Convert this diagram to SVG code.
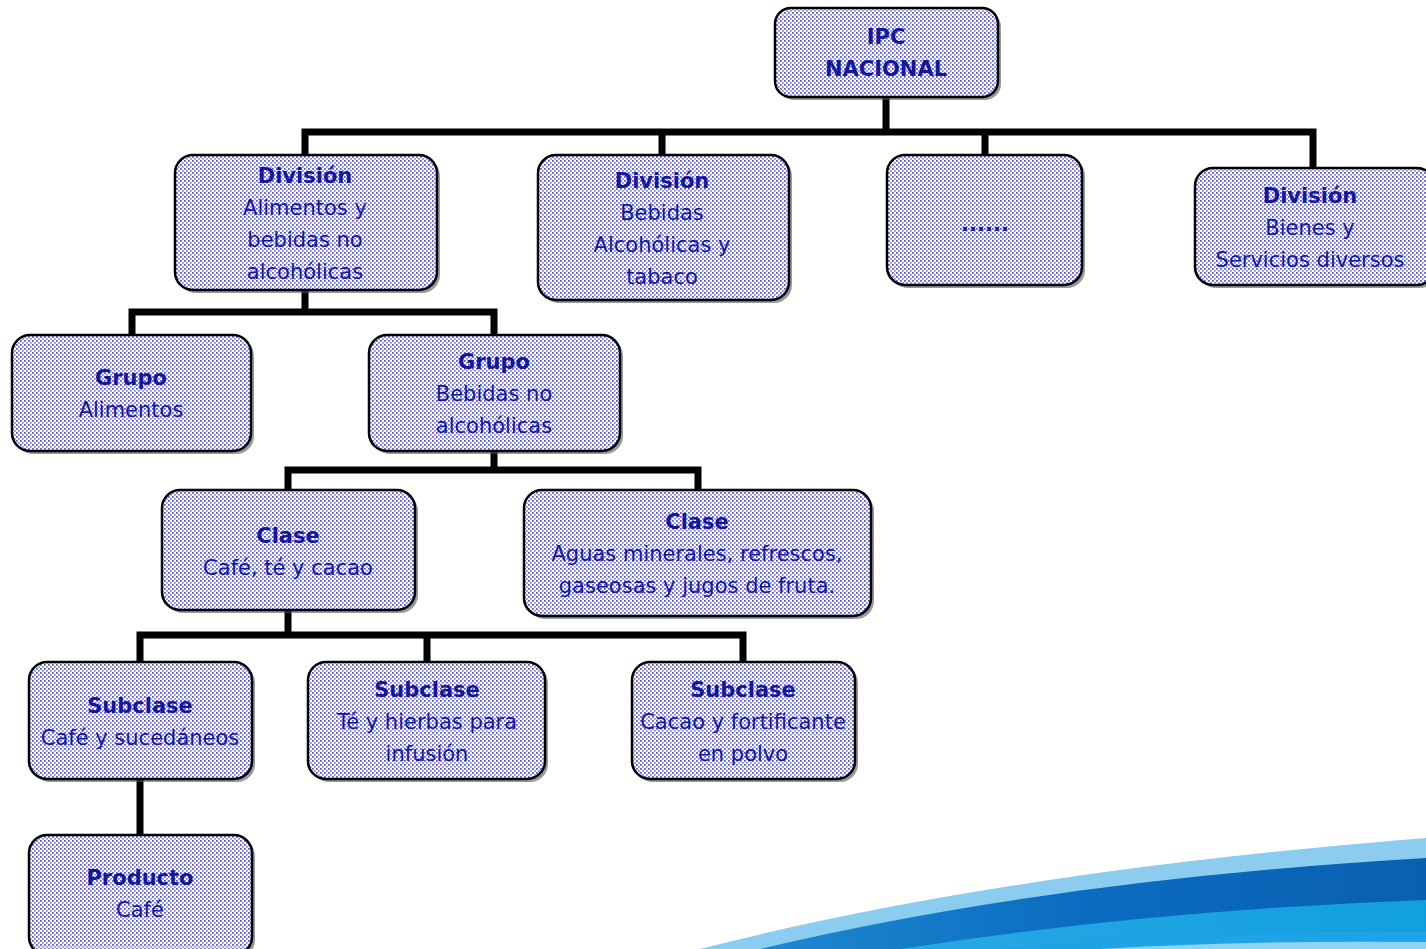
<svg xmlns="http://www.w3.org/2000/svg" width="1426" height="949" viewBox="0 0 1426 949">
<defs>
<pattern id="dots" width="4" height="4" patternUnits="userSpaceOnUse">
<rect width="4" height="4" fill="#ffffff"/>
<rect x="0" y="0" width="1.8" height="1.8" fill="#5a5ad8"/>
<rect x="2" y="2" width="1.8" height="1.8" fill="#8a8ae8"/>
</pattern>
<linearGradient id="dark" x1="0" y1="0" x2="1" y2="0">
<stop offset="0" stop-color="#1e88d0"/>
<stop offset="0.5" stop-color="#0a6cc0"/>
<stop offset="1" stop-color="#0a5fb0"/>
</linearGradient>
<linearGradient id="cyan" x1="0" y1="0" x2="1" y2="0">
<stop offset="0" stop-color="#2aa6e4"/>
<stop offset="1" stop-color="#10a0e0"/>
</linearGradient>
</defs>
<style>
.box{fill:url(#dots);stroke:#000;stroke-width:2.5}
.sh{fill:#555;opacity:0.6}
.t{font-family:"DejaVu Sans",sans-serif;font-size:21px;fill:#16169c;text-anchor:middle}
.b{font-weight:bold}
.c{fill:none;stroke:#000;stroke-width:7;stroke-linecap:butt;stroke-linejoin:miter}
</style>
<rect width="1426" height="949" fill="#ffffff"/>
<g id="swoosh">
<path d="M 700 949 Q 1000 872 1426 838 L 1426 949 Z" fill="#8ccdef"/>
<path d="M 760 949 Q 1050 880 1426 858 L 1426 949 Z" fill="url(#dark)"/>
<path d="M 900 949 Q 1150 910 1426 900 L 1426 949 Z" fill="url(#cyan)"/>
<path d="M 1000 949 Q 1200 930 1426 932 L 1426 949 Z" fill="#1ea4e6"/>
<path d="M 1100 949 Q 1250 940 1426 942 L 1426 949 Z" fill="#8fd3f2"/>
</g>
<g id="connectors">
<path class="c" d="M 886 97 V 132 M 305 155 V 132 H 1313 V 168 M 662 132 V 155 M 985 132 V 155"/>
<path class="c" d="M 305 290 V 312 M 132 335 V 312 H 494 V 335"/>
<path class="c" d="M 494 451 V 470 M 288 490 V 470 H 698 V 490"/>
<path class="c" d="M 288 610 V 635 M 140 662 V 635 H 743 V 662 M 427 635 V 662"/>
<path class="c" d="M 140 779 V 835"/>
</g>
<g id="ipc">
<rect class="sh" x="778" y="11" width="223" height="89" rx="16"/>
<rect class="box" x="775" y="8" width="223" height="89" rx="16"/>
<text class="t b" x="886" y="44">IPC</text>
<text class="t b" x="886" y="76">NACIONAL</text>
</g>
<g id="div1">
<rect class="sh" x="178" y="158" width="262" height="135" rx="18"/>
<rect class="box" x="175" y="155" width="262" height="135" rx="18"/>
<text class="t b" x="305" y="183">División</text>
<text class="t" x="305" y="215">Alimentos y</text>
<text class="t" x="305" y="247">bebidas no</text>
<text class="t" x="305" y="279">alcohólicas</text>
</g>
<g id="div2">
<rect class="sh" x="541" y="158" width="251" height="145" rx="18"/>
<rect class="box" x="538" y="155" width="251" height="145" rx="18"/>
<text class="t b" x="662" y="188">División</text>
<text class="t" x="662" y="220">Bebidas</text>
<text class="t" x="662" y="252">Alcohólicas y</text>
<text class="t" x="662" y="284">tabaco</text>
</g>
<g id="div3">
<rect class="sh" x="890" y="158" width="195" height="130" rx="18"/>
<rect class="box" x="887" y="155" width="195" height="130" rx="18"/>
<text class="t b" x="985" y="231">......</text>
</g>
<g id="div4">
<rect class="sh" x="1198" y="171" width="240" height="117" rx="18"/>
<rect class="box" x="1195" y="168" width="240" height="117" rx="18"/>
<text class="t b" x="1310" y="203">División</text>
<text class="t" x="1310" y="235">Bienes y</text>
<text class="t" x="1310" y="267">Servicios diversos</text>
</g>
<g id="grupo1">
<rect class="sh" x="15" y="338" width="239" height="116" rx="18"/>
<rect class="box" x="12" y="335" width="239" height="116" rx="18"/>
<text class="t b" x="131" y="385">Grupo</text>
<text class="t" x="131" y="417">Alimentos</text>
</g>
<g id="grupo2">
<rect class="sh" x="372" y="338" width="251" height="116" rx="18"/>
<rect class="box" x="369" y="335" width="251" height="116" rx="18"/>
<text class="t b" x="494" y="369">Grupo</text>
<text class="t" x="494" y="401">Bebidas no</text>
<text class="t" x="494" y="433">alcohólicas</text>
</g>
<g id="clase1">
<rect class="sh" x="165" y="493" width="253" height="120" rx="18"/>
<rect class="box" x="162" y="490" width="253" height="120" rx="18"/>
<text class="t b" x="288" y="543">Clase</text>
<text class="t" x="288" y="575">Café, té y cacao</text>
</g>
<g id="clase2">
<rect class="sh" x="527" y="493" width="347" height="126" rx="18"/>
<rect class="box" x="524" y="490" width="347" height="126" rx="18"/>
<text class="t b" x="697" y="529">Clase</text>
<text class="t" x="697" y="561">Aguas minerales, refrescos,</text>
<text class="t" x="697" y="593">gaseosas y jugos de fruta.</text>
</g>
<g id="sub1">
<rect class="sh" x="32" y="665" width="223" height="117" rx="18"/>
<rect class="box" x="29" y="662" width="223" height="117" rx="18"/>
<text class="t b" x="140" y="713">Subclase</text>
<text class="t" x="140" y="745">Café y sucedáneos</text>
</g>
<g id="sub2">
<rect class="sh" x="311" y="665" width="237" height="117" rx="18"/>
<rect class="box" x="308" y="662" width="237" height="117" rx="18"/>
<text class="t b" x="427" y="697">Subclase</text>
<text class="t" x="427" y="729">Té y hierbas para</text>
<text class="t" x="427" y="761">infusión</text>
</g>
<g id="sub3">
<rect class="sh" x="635" y="665" width="223" height="117" rx="18"/>
<rect class="box" x="632" y="662" width="223" height="117" rx="18"/>
<text class="t b" x="743" y="697">Subclase</text>
<text class="t" x="743" y="729">Cacao y fortificante</text>
<text class="t" x="743" y="761">en polvo</text>
</g>
<g id="producto">
<rect class="sh" x="32" y="838" width="223" height="120" rx="18"/>
<rect class="box" x="29" y="835" width="223" height="120" rx="18"/>
<text class="t b" x="140" y="885">Producto</text>
<text class="t" x="140" y="917">Café</text>
</g>
</svg>
